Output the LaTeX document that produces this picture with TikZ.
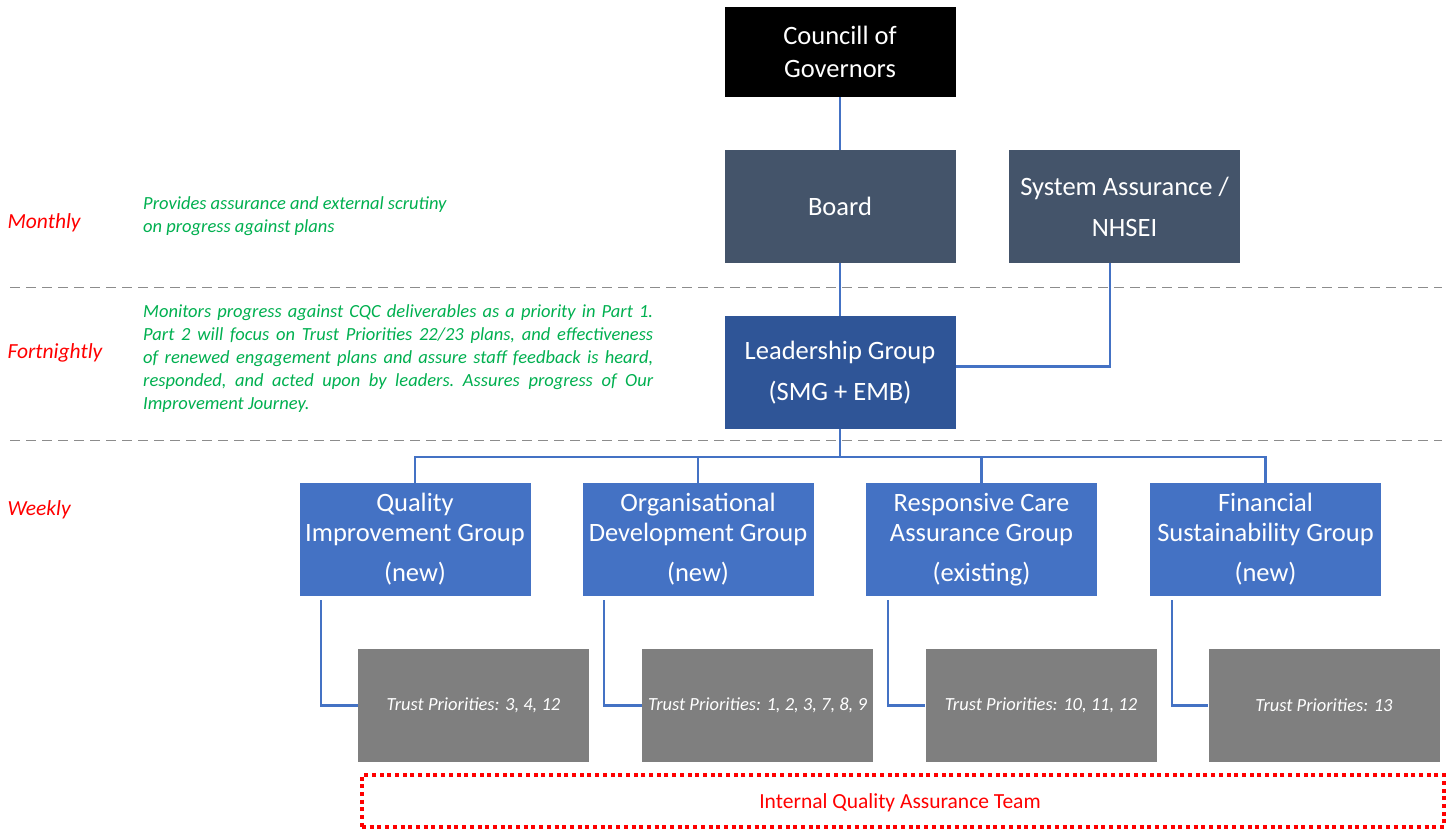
\documentclass[tikz,border=0pt]{standalone}
\usepackage{fontspec}
\setmainfont{Carlito}
\usepackage{xcolor}
\usetikzlibrary{positioning}
\definecolor{govblack}{HTML}{000000}
\definecolor{boardslate}{HTML}{44546A}
\definecolor{leadblue}{HTML}{2F5597}
\definecolor{groupblue}{HTML}{4472C4}
\definecolor{tpgrey}{HTML}{7F7F7F}
\definecolor{notegreen}{HTML}{00B050}
\definecolor{periodred}{HTML}{FF0000}
\definecolor{rulegrey}{HTML}{8C8C8C}
\tikzset{
  orgbox/.style={minimum width=231pt, minimum height=113pt, inner sep=0pt, align=center, text=white},
  boardbox/.style={orgbox, fill=boardslate, font=\fontsize{26.5}{41}\selectfont},
  groupbox/.style={orgbox, fill=groupblue, font=\fontsize{26.5}{30}\selectfont},
  tpbox/.style={orgbox, fill=tpgrey, font=\fontsize{18.5}{22}\selectfont\itshape},
  link/.style={draw=groupblue, line width=2.2pt},
  periodlabel/.style={anchor=west, text=periodred, font=\fontsize{21.5}{25}\selectfont\itshape},
  notetext/.style={anchor=north west, align=left, text=notegreen, inner sep=0pt, font=\fontsize{18.5}{23}\selectfont\itshape},
  splitline/.style={draw=rulegrey, line width=1pt, dash pattern=on 10pt off 6pt}
}
\begin{document}
\begin{tikzpicture}[x=1pt,y=-1pt]
\useasboundingbox[fill=white] (0,0) rectangle (1452,833);

% period separators
\draw[splitline] (10,287) -- (1442,287);
\draw[splitline] (10,440) -- (1442,440);

% top of the structure
\node[orgbox, fill=govblack, font=\fontsize{26.5}{33}\selectfont, minimum height=90pt] (council) at (840,52) {Councill of\\Governors};
\node[boardbox] (board) at (840,206.5) {Board};
\node[boardbox] (sysassure) at (1124.5,206.5) {System Assurance /\\NHSEI};
\node[boardbox, fill=leadblue] (leader) at (840,372.5) {Leadership Group\\(SMG + EMB)};

% sub groups
\node[groupbox] (qig) at (415,539.5) {Quality\\Improvement Group\\[10pt](new)};
\node[groupbox] (odg) at (698,539.5) {Organisational\\Development Group\\[10pt](new)};
\node[groupbox] (rcg) at (981.5,539.5) {Responsive Care\\Assurance Group\\[10pt](existing)};
\node[groupbox] (fsg) at (1265.5,539.5) {Financial\\Sustainability Group\\[10pt](new)};

% trust priorities
\node[tpbox] (tpq) at (473.5,705.5) {Trust Priorities: 3, 4, 12};
\node[tpbox] (tpo) at (757.5,705.5) {Trust Priorities: 1, 2, 3, 7, 8, 9};
\node[tpbox] (tpr) at (1041,705.5) {Trust Priorities: 10, 11, 12};
\node[tpbox] (tpf) at (1324,705.5) {Trust Priorities: 13};

\node[draw=periodred, line width=4.5pt, dash pattern=on 4pt off 3.7pt, minimum width=1082pt, minimum height=52pt,
  text=periodred, font=\fontsize{21.5}{25}\selectfont] (iqat) at (903,801) {};
\node[text=periodred, font=\fontsize{21.5}{25}\selectfont] (iqatlabel) at (900,803) {Internal Quality Assurance Team};

% connectors
\draw[link] (council) -- (board);
\draw[link] (board) -- (leader);
\draw[link] ([xshift=-14.5pt]sysassure.south) |- ([yshift=6pt]leader.east);
\foreach \grp in {qig,odg,rcg,fsg}
  \draw[link] (leader.south) -- ++(0,28) -| (\grp.north);
\foreach \grp/\tp in {qig/tpq,odg/tpo,rcg/tpr,fsg/tpf}
  \draw[link] ([xshift=22pt,yshift=-4pt]\grp.south west) |- (\tp.west);

% timing labels and notes
\node[periodlabel] (monthly) at (4,223) {Monthly};
\node[periodlabel] (fortnightly) at (4,353) {Fortnightly};
\node[periodlabel] (weekly) at (4,510) {Weekly};
\node[notetext] (monthnote) at (143,196) {Provides assurance and external scrutiny\\on progress against plans};
\node[notetext, text width=510pt, align=justify] (fortnote) at (143,304) {\hyphenpenalty=10000\frenchspacing
  Monitors progress against CQC deliverables as a priority in Part 1.\linebreak
  Part 2 will focus on Trust Priorities 22/23 plans, and effectiveness\linebreak
  of renewed engagement plans and assure staff feedback is heard,\linebreak
  responded, and acted upon by leaders. Assures progress of Our\linebreak
  Improvement Journey.};
\end{tikzpicture}
\end{document}
